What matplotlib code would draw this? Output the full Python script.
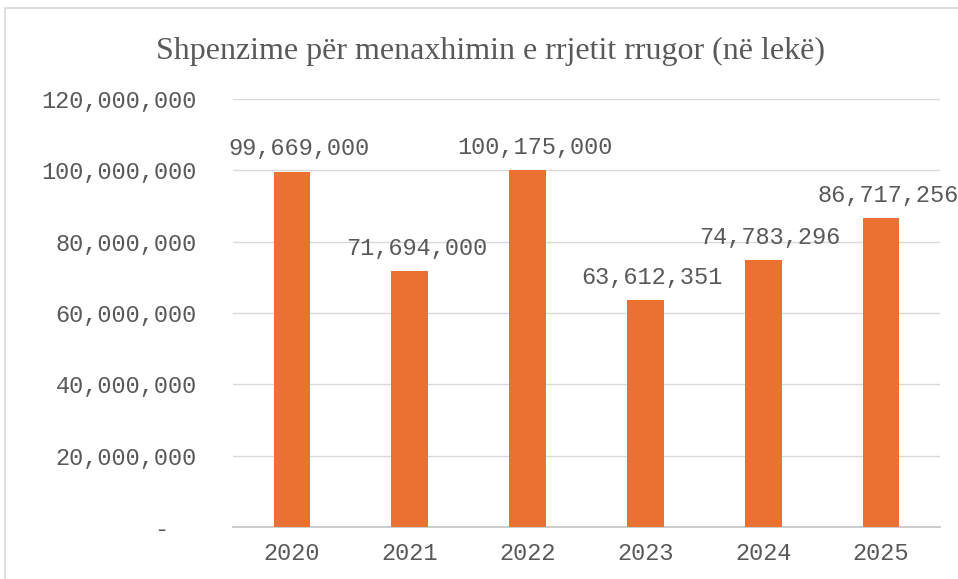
import matplotlib.pyplot as plt
from matplotlib.patches import Rectangle
from matplotlib.ticker import FuncFormatter

years = ["2020", "2021", "2022", "2023", "2024", "2025"]
expenses = [99669000, 71694000, 100175000, 63612351, 74783296, 86717256]
y_ticks = [0, 20000000, 40000000, 60000000, 80000000, 100000000, 120000000]

grey_text = "#595959"
bar_color = "#EB7132"

fig = plt.figure(figsize=(9.58, 5.79), dpi=100)
ax = fig.add_axes([233 / 958, 1 - 527 / 579, 707 / 958, 428 / 579])

# outer chart frame
fig.patches.append(Rectangle((5 / 958, -0.1), 1.2, 1 - 8 / 579 + 0.1, transform=fig.transFigure,
                             fill=False, edgecolor="#d9d9d9", linewidth=1.2))

x = range(len(years))
bars = ax.bar(x, expenses, width=0.31, color=bar_color, zorder=3)

# value labels (Excel accounting format pushes them slightly right)
for rect, val in zip(bars, expenses):
    ax.annotate(f"{val:,}", (rect.get_x() + rect.get_width() / 2, val),
                xytext=(5, 8), textcoords="offset points", ha="center", va="bottom",
                family="Liberation Mono", fontsize=17, color=grey_text, annotation_clip=False)

ax.set_xlim(-0.5, len(years) - 0.5)
ax.set_ylim(0, 120000000)
ax.set_yticks(y_ticks)
ax.yaxis.set_major_formatter(FuncFormatter(lambda v, p: "-  " if v == 0 else f"{int(v):,}"))
ax.set_xticks(list(x))
ax.set_xticklabels(years)

for lbl in ax.get_xticklabels() + ax.get_yticklabels():
    lbl.set_family("Liberation Mono")
    lbl.set_fontsize(17)
    lbl.set_color(grey_text)

ax.tick_params(axis="both", length=0)
ax.tick_params(axis="y", pad=26)
ax.tick_params(axis="x", pad=11)
ax.grid(axis="y", color="#d9d9d9", linewidth=1, zorder=0)
for side in ["top", "right", "left"]:
    ax.spines[side].set_visible(False)
ax.spines["bottom"].set_color("#c8c8c8")
ax.spines["bottom"].set_linewidth(1.3)

fig.text(490 / 958, 1 - 51 / 579, "Shpenzime për menaxhimin e rrjetit rrugor (në lekë)",
         ha="center", va="center", family="Liberation Serif", fontsize=23, color=grey_text)

fig.savefig("out.png", dpi=100)
plt.close(fig)
